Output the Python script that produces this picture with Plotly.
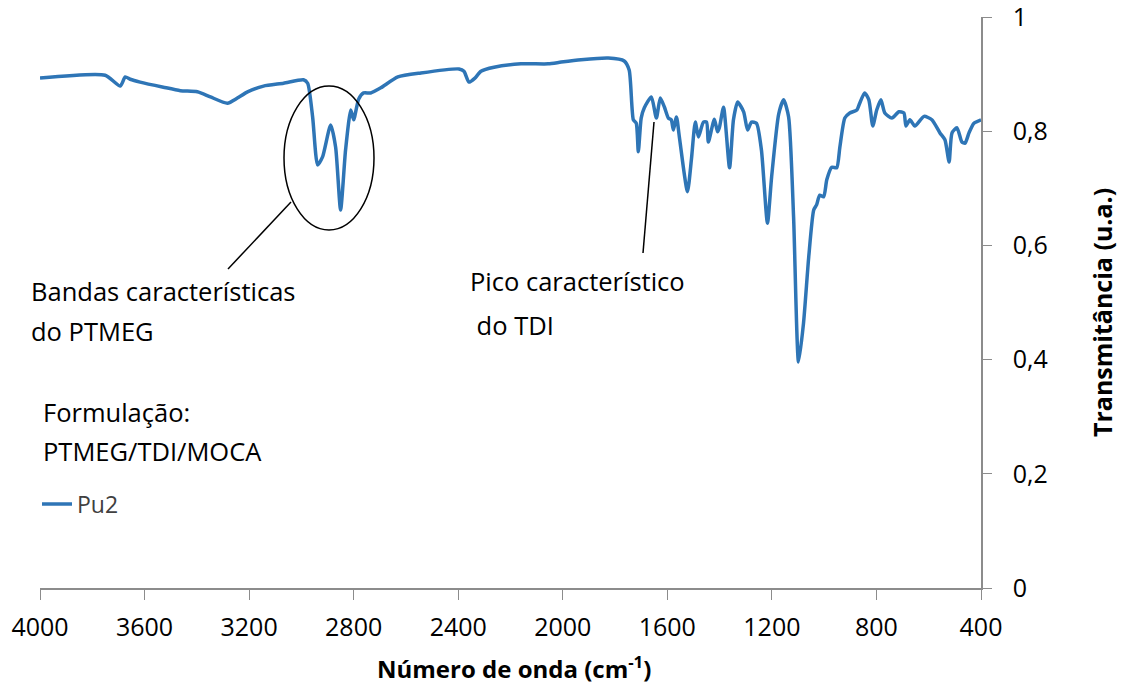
import plotly.graph_objects as go

# FTIR spectrum of formulation Pu2 (PTMEG/TDI/MOCA)
wavenumber = [
    4000, 3751, 3693, 3674, 3655, 3617, 3528, 3463, 3398, 3348, 3283, 3245, 3206,
    3145, 3068, 2992, 2976, 2957, 2938, 2919, 2888, 2869, 2850, 2831, 2811, 2800,
    2781, 2762, 2735, 2696, 2631, 2543, 2397, 2378, 2359, 2336, 2313, 2263, 2160,
    2056, 2006, 1930, 1826, 1765, 1746, 1730, 1719, 1711, 1700, 1688, 1661, 1642,
    1627, 1611, 1596, 1585, 1577, 1565, 1554, 1523, 1508, 1493, 1481, 1462, 1450,
    1443, 1420, 1408, 1401, 1385, 1362, 1347, 1331, 1308, 1293, 1278, 1259, 1240,
    1217, 1201, 1174, 1155, 1136, 1117, 1098, 1079, 1059, 1040, 1029, 1017, 1002,
    990, 971, 952, 940, 921, 902, 875, 864, 845, 829, 814, 799, 783, 768, 741, 714,
    695, 687, 672, 653, 618, 588, 557, 538, 522, 511, 492, 473, 461, 446, 427, 400,
]
transmittance = [
    0.893, 0.898, 0.879, 0.895, 0.891, 0.886, 0.877, 0.871, 0.869, 0.860, 0.849, 0.858, 0.869,
    0.879, 0.884, 0.890, 0.884, 0.825, 0.741, 0.755, 0.811, 0.772, 0.662, 0.767, 0.837, 0.820,
    0.856, 0.867, 0.867, 0.876, 0.895, 0.902, 0.909, 0.905, 0.886, 0.893, 0.905, 0.912, 0.918,
    0.918, 0.921, 0.925, 0.928, 0.923, 0.907, 0.820, 0.814, 0.764, 0.823, 0.841, 0.860, 0.823,
    0.858, 0.842, 0.823, 0.820, 0.802, 0.825, 0.790, 0.694, 0.750, 0.816, 0.790, 0.816, 0.816,
    0.781, 0.821, 0.799, 0.806, 0.842, 0.736, 0.820, 0.851, 0.834, 0.802, 0.816, 0.814, 0.767,
    0.639, 0.720, 0.830, 0.855, 0.825, 0.650, 0.396, 0.464, 0.580, 0.662, 0.671, 0.688, 0.685,
    0.715, 0.737, 0.736, 0.772, 0.823, 0.832, 0.837, 0.849, 0.867, 0.855, 0.809, 0.837, 0.855,
    0.832, 0.823, 0.834, 0.832, 0.809, 0.820, 0.809, 0.826, 0.820, 0.797, 0.785, 0.746, 0.797,
    0.806, 0.781, 0.779, 0.797, 0.814, 0.820,
]

x_ticks = [4000, 3600, 3200, 2800, 2400, 2000, 1600, 1200, 800, 400]
y_ticks = [0, 0.2, 0.4, 0.6, 0.8, 1.0]
y_tick_labels = ["0", "0,2", "0,4", "0,6", "0,8", "1"]

W, H = 1124, 688
L, R, T, B = 40, 981, 17, 588  # plot area in pixels


def px(x):
    return (x - L) / (R - L)


def py(y):
    return (B - y) / (B - T)


FONT = "Open Sans"
BLUE = "#2E75B6"
AXIS = "#8C8C8C"
TEXT = "#000000"

fig = go.Figure()
fig.add_trace(go.Scatter(
    x=wavenumber, y=transmittance, mode="lines", name="Pu2",
    line=dict(color=BLUE, width=3.5, shape="spline", smoothing=0.6),
))

fig.update_layout(
    width=W, height=H,
    margin=dict(l=L, r=W - R, t=T, b=H - B, autoexpand=False),
    paper_bgcolor="white", plot_bgcolor="white",
    font=dict(family=FONT, size=22, color=TEXT),
    separators=",.",
    showlegend=True,
    legend=dict(x=px(37), y=py(504), xanchor="left", yanchor="middle",
                font=dict(size=23, color="#404040"), bgcolor="rgba(0,0,0,0)"),
    xaxis=dict(
        range=[4000, 400], tickvals=x_ticks, ticks="outside", ticklen=10,
        tickcolor=AXIS, showline=True, linecolor=AXIS, linewidth=1.5,
        showgrid=False, zeroline=False, tickfont=dict(size=25),
        ticklabelstandoff=6, automargin=False,
    ),
    yaxis=dict(
        range=[0, 1], side="right", tickvals=y_ticks, ticktext=y_tick_labels,
        ticks="outside", ticklen=9, tickcolor=AXIS, showline=True,
        linecolor=AXIS, linewidth=1.5, showgrid=False, zeroline=False,
        tickfont=dict(size=25), ticklabelstandoff=16,
        ticklabeloverflow="allow", automargin=False,
    ),
)

# Axis titles
fig.add_annotation(text="<b>Número de onda (cm<sup>-1</sup>)</b>",
                   xref="paper", yref="paper", x=px(514), y=py(667),
                   xanchor="center", yanchor="middle", showarrow=False,
                   font=dict(size=24))
fig.add_annotation(text="<b>Transmitância (u.a.)</b>", textangle=-90,
                   xref="paper", yref="paper", x=px(1102), y=py(313),
                   xanchor="center", yanchor="middle", showarrow=False,
                   font=dict(size=25))

# Text notes
notes = [
    ("Bandas características", 29, 291),
    ("do PTMEG", 29, 331),
    ("Pico característico", 468, 281),
    (" do TDI", 468, 325),
    ("Formulação:", 41, 412),
    ("PTMEG/TDI/MOCA", 41, 451),
]
for txt, x0, y0 in notes:
    fig.add_annotation(text=txt, xref="paper", yref="paper", x=px(x0), y=py(y0),
                       xanchor="left", yanchor="middle", showarrow=False,
                       font=dict(size=25.5))

# Ellipse around the PTMEG bands and pointer lines
fig.add_shape(type="circle", xref="paper", yref="paper",
              x0=px(284), x1=px(374), y0=py(230), y1=py(86),
              line=dict(color="black", width=1.5))
fig.add_shape(type="line", xref="paper", yref="paper",
              x0=px(291), y0=py(202), x1=px(228), y1=py(269),
              line=dict(color="black", width=1.5))
fig.add_shape(type="line", xref="paper", yref="paper",
              x0=px(654), y0=py(122), x1=px(643), y1=py(253),
              line=dict(color="black", width=1.5))

fig.write_html("out.html")
